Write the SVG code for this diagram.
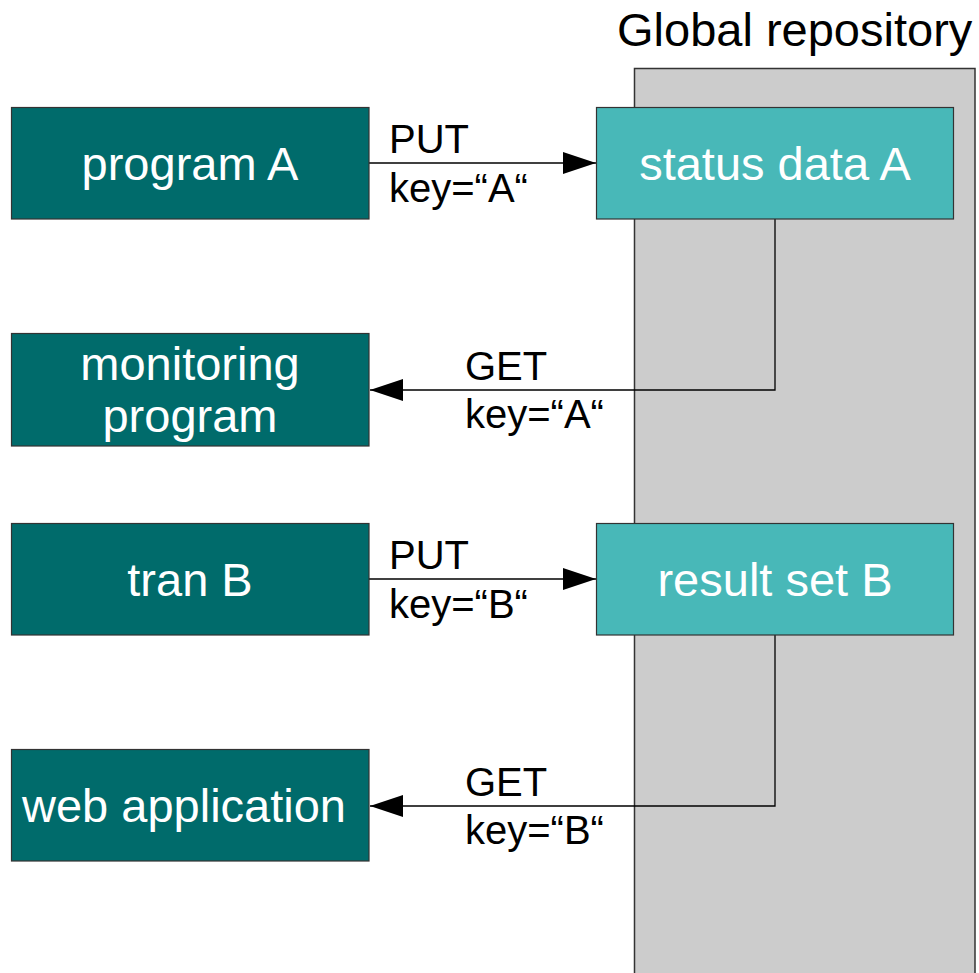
<svg xmlns="http://www.w3.org/2000/svg" width="979" height="973" viewBox="0 0 979 973">
<style>
.dark{fill:#006b6b;stroke:#333;stroke-width:1.2}
.light{fill:#48b8b8;stroke:#333;stroke-width:1.2}
.nt{font-family:"Liberation Sans",Arial,sans-serif;font-size:47px;fill:#fff;text-anchor:middle}
.lt{font-family:"Liberation Sans",Arial,sans-serif;font-size:40px;fill:#000}
.conn{fill:none;stroke:#000;stroke-width:1.3}
</style>
<defs>
<marker id="ah" markerWidth="33" markerHeight="22" refX="33" refY="11" orient="auto" markerUnits="userSpaceOnUse">
<path d="M0,0 L33,11 L0,22 Z" fill="#000"/>
</marker>
</defs>
<g id="repository">
<rect x="634.5" y="68.5" width="340.5" height="920" fill="#cccccc" stroke="#333" stroke-width="1.5"/>
<text x="617" y="46" font-family="Liberation Sans,Arial,sans-serif" font-size="47" fill="#000">Global repository</text>
</g>
<g id="connectors">
<line class="conn" x1="369" y1="163" x2="596" y2="163" marker-end="url(#ah)"/>
<polyline class="conn" points="775,219 775,390 370,390" marker-end="url(#ah)"/>
<line class="conn" x1="369" y1="579" x2="596" y2="579" marker-end="url(#ah)"/>
<polyline class="conn" points="775,635 775,806 370,806" marker-end="url(#ah)"/>
<text class="lt" x="389" y="153">PUT</text>
<text class="lt" x="389" y="202">key=“A“</text>
<text class="lt" x="465" y="380">GET</text>
<text class="lt" x="465" y="428">key=“A“</text>
<text class="lt" x="389" y="569">PUT</text>
<text class="lt" x="389" y="618">key=“B“</text>
<text class="lt" x="465" y="796">GET</text>
<text class="lt" x="465" y="844">key=“B“</text>
</g>
<g id="programA">
<rect class="dark" x="11.5" y="107.5" width="357.5" height="111.5"/>
<text class="nt" x="190" y="180">program A</text>
</g>
<g id="statusA">
<rect class="light" x="596.5" y="107.5" width="357" height="111.5"/>
<text class="nt" x="775" y="180">status data A</text>
</g>
<g id="monitoring">
<rect class="dark" x="11.5" y="333.5" width="357.5" height="112.5"/>
<text class="nt" x="190" y="380">monitoring</text>
<text class="nt" x="190" y="432">program</text>
</g>
<g id="tranB">
<rect class="dark" x="11.5" y="523.5" width="357.5" height="111.5"/>
<text class="nt" x="190" y="596">tran B</text>
</g>
<g id="resultB">
<rect class="light" x="596.5" y="523.5" width="357" height="111.5"/>
<text class="nt" x="775" y="596">result set B</text>
</g>
<g id="webapp">
<rect class="dark" x="11.5" y="749.5" width="357.5" height="111.5"/>
<text class="nt" x="184" y="822">web application</text>
</g>
</svg>
